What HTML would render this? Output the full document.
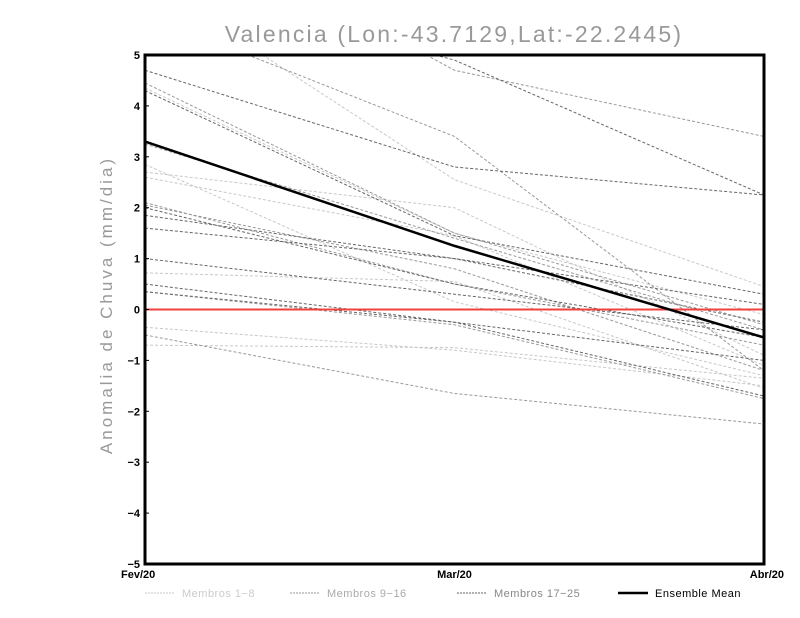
<!DOCTYPE html>
<html><head><meta charset="utf-8"><style>
body{margin:0;background:#fff;}
svg{display:block;font-family:"Liberation Sans",sans-serif;}
</style></head><body>
<svg id="chart" width="800" height="618" viewBox="0 0 800 618">
<defs><clipPath id="pc"><rect x="145" y="55" width="619" height="509"/></clipPath></defs>
<text x="454" y="42" text-anchor="middle" font-size="23" fill="#999" letter-spacing="2.2">Valencia (Lon:-43.7129,Lat:-22.2445)</text>
<text transform="translate(112,305) rotate(-90)" text-anchor="middle" font-size="17" fill="#999" letter-spacing="3">Anomalia de Chuva (mm/dia)</text>
<g id="series" clip-path="url(#pc)"></g>
<g id="axes"></g>
<g id="legend"></g>
</svg>
<script>
const categories=["Fev/20","Mar/20","Abr/20"];
const yTicks=[5,4,3,2,1,0,-1,-2,-3,-4,-5];
const members1to8=[[6.5,2.55,0.45],[4.35,1.5,-0.1],[2.85,0.15,-1.3],[2.6,1.45,-1.1],[-0.35,-0.8,-1.5],[-0.7,-0.75,-1.35],[2.7,2.0,-0.9],[0.72,0.55,-1.55]];
const members9to16=[[8,4.7,3.4],[5.8,3.4,-1.2],[4.45,1.5,-0.3],[2.1,0.5,-0.7],[2.05,0.8,-1.2],[0.35,-0.3,-1.75],[3.25,1.4,-0.4],[-0.5,-1.65,-2.25]];
const members17to25=[[6.5,4.9,2.25],[4.7,2.8,2.25],[4.3,1.45,0.3],[1.85,1.0,0.1],[1.6,1.0,-0.25],[0.5,-0.25,-1.0],[2.0,0.5,-0.55],[0.35,-0.25,-1.7],[1.0,0.3,-0.4]];
const ensembleMean=[3.3,1.25,-0.55];
const NS="http://www.w3.org/2000/svg";
const L=145,R=764,T=55,B=564;
const x=i=>L+(R-L)*i/(categories.length-1);
const y=v=>B-(v+5)/10*(B-T);
function mk(tag,attrs,parent){const e=document.createElementNS(NS,tag);for(const k in attrs)e.setAttribute(k,attrs[k]);parent.appendChild(e);return e;}
const S=document.getElementById('series'),A=document.getElementById('axes'),G=document.getElementById('legend');
function line(vals,color,width,dash,name){
  const p=mk('polyline',{points:vals.map((v,i)=>x(i)+','+y(v)).join(' '),fill:'none',stroke:color,'stroke-width':width},S);
  if(dash)p.setAttribute('stroke-dasharray',dash);
  
  
}
members1to8.forEach((m,i)=>line(m,'#c8c8c8',1,'3,2','member-'+(i+1)));
members9to16.forEach((m,i)=>line(m,'#999',1,'3,2','member-'+(i+9)));
members17to25.forEach((m,i)=>line(m,'#666',1,'3,2','member-'+(i+17)));
const z=mk('line',{x1:L,x2:R,y1:y(0),y2:y(0),stroke:'#f04040','stroke-width':2},S);


line(ensembleMean,'#000',2.5,null,'ensemble-mean-line');
const fr=mk('rect',{x:L,y:T,width:R-L,height:B-T,fill:'none',stroke:'#000','stroke-width':3},A);


yTicks.forEach(v=>{
  const t=mk('text',{x:L-5,y:y(v)+4,'text-anchor':'end','font-size':11,'font-weight':'bold',fill:'#000'},A);
  t.textContent=(v<0?'\u2212':'')+Math.abs(v);
  
  
  mk('line',{x1:L,x2:L+4,y1:y(v),y2:y(v),stroke:'#000','stroke-width':1},A);
});
categories.forEach((c,i)=>{
  const anchor=i==0?'start':(i==categories.length-1?'end':'middle');
  const t=mk('text',{x:x(i)+(i==0?-24:(i==2?20:0)),y:B+14,'text-anchor':anchor,'font-size':11,'font-weight':'bold',fill:'#000'},A);
  t.textContent=c;
  
  
});
const leg=[["Membros 1\u22128",'#ccc','#c8c8c8',145,1,'2,1'],["Membros 9\u221216",'#aaa','#999',290,1,'2,1'],["Membros 17\u221225",'#888','#666',457,1,'2,1'],["Ensemble Mean",'#000','#000',618,2.5,null]];
leg.forEach(d=>{
  const l=mk('line',{x1:d[3],x2:d[3]+30,y1:593,y2:593,stroke:d[2],'stroke-width':d[4]},G);
  if(d[5])l.setAttribute('stroke-dasharray',d[5]);
  
  
  const t=mk('text',{x:d[3]+37,y:597,'font-size':11,fill:d[1],'letter-spacing':'0.5'},G);
  t.textContent=d[0];
  
  
});
</script>
</body></html>
